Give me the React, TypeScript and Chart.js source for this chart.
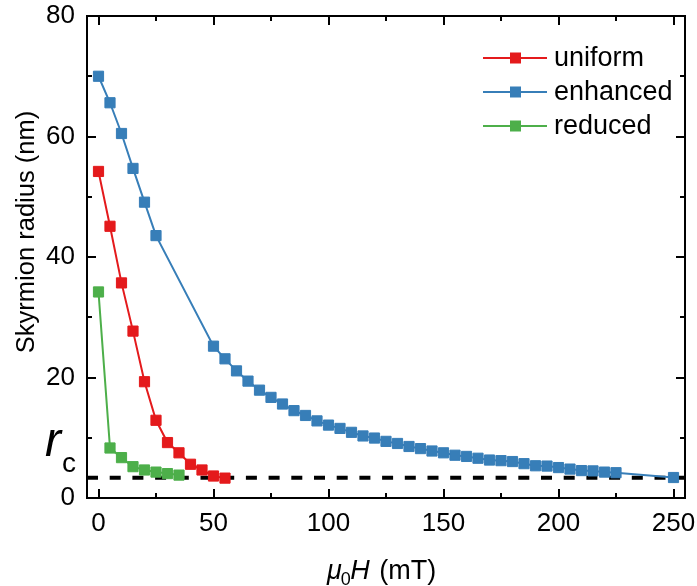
import React, { useEffect, useRef } from "react";
import { Chart, registerables } from "chart.js";

Chart.register(...registerables);

// ---- data ----
const uniformX = [0, 5, 10, 15, 20, 25, 30, 35, 40, 45, 50, 55];
const uniformY = [54.2, 45.1, 35.7, 27.7, 19.3, 12.9, 9.2, 7.5, 5.6, 4.65, 3.65, 3.3];

const enhancedX = [0, 5, 10, 15, 20, 25, 50, 55, 60, 65, 70, 75, 80, 85, 90, 95, 100, 105, 110, 115, 120,
  125, 130, 135, 140, 145, 150, 155, 160, 165, 170, 175, 180, 185, 190, 195, 200, 205, 210, 215, 220, 225, 250];
const enhancedY = [70, 65.6, 60.5, 54.7, 49.1, 43.55, 25.2, 23.1, 21.1, 19.4, 17.9, 16.7, 15.6, 14.5, 13.7, 12.8, 12.1, 11.55, 10.9, 10.3, 9.95,
  9.4, 9.05, 8.55, 8.2, 7.8, 7.5, 7.1, 6.9, 6.6, 6.3, 6.2, 6.05, 5.7, 5.35, 5.3, 5.05, 4.8, 4.55, 4.5, 4.3, 4.2, 3.4];

const reducedX = [0, 5, 10, 15, 20, 25, 30, 35];
const reducedY = [34.2, 8.3, 6.7, 5.2, 4.65, 4.3, 4.05, 3.8];

const criticalRadius = 3.35;
const xRange = [-5, 255];
const yRange = [0, 80];

const seriesNames = ["uniform", "enhanced", "reduced"];
const seriesColors = ["#E41A1C", "#377EB8", "#4DAF4A"];

const xMajorTicks = [0, 50, 100, 150, 200, 250];
const xMinorTicks = [25, 75, 125, 175, 225];
const yMajorTicks = [0, 20, 40, 60, 80];
const yMinorTicks = [10, 30, 50, 70];

const FONT = "'Liberation Sans', Arial, Helvetica, sans-serif";

const toPts = (xs: number[], ys: number[]) => xs.map((x, i) => ({ x, y: ys[i] }));

const decorPlugin = {
  id: "decor",
  afterDatasetsDraw(chart: any) {
    const { ctx, chartArea: a, scales } = chart;
    const xs = scales.x, ys = scales.y;
    ctx.save();
    // frame
    ctx.strokeStyle = "#000";
    ctx.lineWidth = 2;
    ctx.strokeRect(a.left, a.top, a.right - a.left, a.bottom - a.top);
    // ticks inward
    const tick = (v: number, len: number, axis: string) => {
      ctx.beginPath();
      if (axis === "x") {
        const px = Math.round(xs.getPixelForValue(v));
        ctx.moveTo(px, a.bottom); ctx.lineTo(px, a.bottom - len);
        ctx.moveTo(px, a.top); ctx.lineTo(px, a.top + len);
      } else {
        const py = Math.round(ys.getPixelForValue(v));
        ctx.moveTo(a.left, py); ctx.lineTo(a.left + len, py);
        ctx.moveTo(a.right, py); ctx.lineTo(a.right - len, py);
      }
      ctx.stroke();
    };
    xMajorTicks.forEach((v) => tick(v, 9, "x"));
    xMinorTicks.forEach((v) => tick(v, 5, "x"));
    yMajorTicks.forEach((v) => tick(v, 9, "y"));
    yMinorTicks.forEach((v) => tick(v, 5, "y"));

    // legend
    ctx.textBaseline = "middle";
    ctx.textAlign = "left";
    ctx.font = `27px ${FONT}`;
    seriesNames.forEach((name, i) => {
      const y = 58 + i * 34;
      ctx.strokeStyle = seriesColors[i];
      ctx.lineWidth = 2;
      ctx.beginPath();
      ctx.moveTo(483, y); ctx.lineTo(547, y);
      ctx.stroke();
      ctx.fillStyle = seriesColors[i];
      ctx.fillRect(515.5 - 5.5, y - 5.5, 11, 11);
      ctx.fillStyle = "#000";
      ctx.fillText(name, 554, y + 1);
    });

    // r_c label
    ctx.fillStyle = "#000";
    ctx.textBaseline = "alphabetic";
    ctx.font = `italic 48px ${FONT}`;
    ctx.fillText("r", 45, 456);
    ctx.font = `28px ${FONT}`;
    ctx.fillText("c", 62, 472);

    // x title: mu_0 H (mT)
    const base = 579;
    let x = 327;
    ctx.font = `italic 27px ${FONT}`;
    ctx.fillText("\u03BC", x, base);
    x += ctx.measureText("\u03BC").width - 1;
    ctx.font = `18px ${FONT}`;
    ctx.fillText("0", x, base + 6);
    x += ctx.measureText("0").width - 0.5;
    ctx.font = `italic 27px ${FONT}`;
    ctx.fillText("H", x, base);
    x += ctx.measureText("H").width + 2;
    ctx.font = `27px ${FONT}`;
    ctx.fillText(" (mT)", x, base);

    // y title
    ctx.save();
    ctx.translate(34, 232);
    ctx.rotate(-Math.PI / 2);
    ctx.textAlign = "center";
    ctx.font = `25.5px ${FONT}`;
    ctx.fillText("Skyrmion radius (nm)", 0, 0);
    ctx.restore();

    ctx.restore();
  },
};

export default function App() {
  const ref = useRef<HTMLCanvasElement>(null);
  useEffect(() => {
    if (!ref.current) return;
    const mk = (i: number, xs: number[], ysd: number[]) => ({
      label: seriesNames[i],
      data: toPts(xs, ysd),
      borderColor: seriesColors[i],
      backgroundColor: seriesColors[i],
      borderWidth: 2,
      pointStyle: "rect",
      pointRadius: 7.2,
      pointBorderWidth: 1,
      pointBorderColor: seriesColors[i],
      pointBackgroundColor: seriesColors[i],
      showLine: true,
      tension: 0,
      order: 1,
    });
    const chart = new Chart(ref.current, {
      type: "line",
      data: {
        datasets: [
          mk(0, uniformX, uniformY),
          mk(1, enhancedX, enhancedY),
          mk(2, reducedX, reducedY),
          {
            label: "rc",
            data: [{ x: xRange[0], y: criticalRadius }, { x: xRange[1], y: criticalRadius }],
            borderColor: "#000",
            borderWidth: 4,
            borderDash: [11, 11.7],
            pointRadius: 0,
            showLine: true,
            order: 5,
          } as any,
        ],
      },
      options: {
        animation: false,
        responsive: false,
        maintainAspectRatio: false,
        layout: { padding: { top: 16, right: 12, left: 0, bottom: 0 } },
        plugins: { legend: { display: false }, tooltip: { enabled: false } },
        scales: {
          x: {
            type: "linear",
            min: xRange[0],
            max: xRange[1],
            afterBuildTicks: (s: any) => { s.ticks = xMajorTicks.map((v) => ({ value: v })); },
            afterFit: (s: any) => { s.height = 88; s.paddingLeft = 0; s.paddingRight = 0; },
            grid: { display: false, drawTicks: false },
            border: { display: false },
            ticks: { color: "#000", font: { family: FONT, size: 26 }, padding: 10, maxRotation: 0 },
          },
          y: {
            type: "linear",
            min: yRange[0],
            max: yRange[1],
            afterBuildTicks: (s: any) => { s.ticks = yMajorTicks.map((v) => ({ value: v })); },
            afterFit: (s: any) => { s.width = 87; s.paddingTop = 0; s.paddingBottom = 0; },
            grid: { display: false, drawTicks: false },
            border: { display: false },
            ticks: { color: "#000", font: { family: FONT, size: 26 }, padding: 12 },
          },
        },
      },
      plugins: [decorPlugin],
    } as any);
    return () => chart.destroy();
  }, []);
  return (
    <div style={{ position: "absolute", left: 0, top: 0, width: 697, height: 586, background: "#fff" }}>
      <canvas ref={ref} width={697} height={586} style={{ display: "block", width: 697, height: 586 }} />
    </div>
  );
}
